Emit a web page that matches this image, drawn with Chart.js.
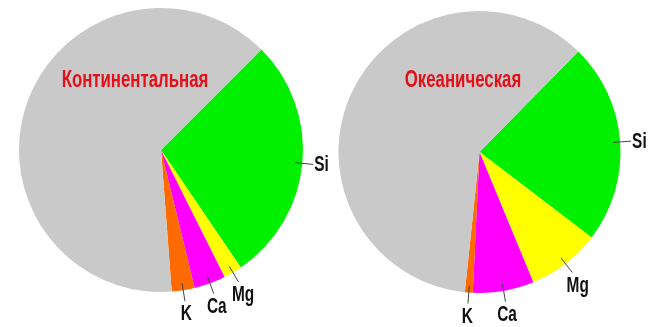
<!DOCTYPE html>
<html>
<head>
<meta charset="utf-8">
<script src="https://cdn.jsdelivr.net/npm/chart.js@4"></script>
<style>
  html, body { margin: 0; padding: 0; background: #fff; }
  .wrap { position: relative; width: 652px; height: 327px; }
  .cell { position: absolute; top: 0; height: 327px; }
</style>
</head>
<body>
<div class="wrap">
  <div class="cell" style="left:0; width:345px"><canvas id="contChart"></canvas></div>
  <div class="cell" style="left:326px; width:326px"><canvas id="oceanChart"></canvas></div>
</div>
<script>
// ---- Data (mass %) ----
const ELEMENTS    = ["Si", "Mg", "Ca", "K", ""];
const CONTINENTAL = [28, 2.1, 3.6, 2.6, 63.7];
const OCEANIC     = [23, 8.4, 7.0, 0.9, 60.7];
const COLORS = ["#00f000", "#ffff00", "#ff00ff", "#ff6a00", "#c9c9c9"];

const LABEL_FONT = "bold 22px 'Liberation Sans', Arial, sans-serif";
const TITLE_FONT = "bold 24px 'Liberation Sans', Arial, sans-serif";
const SQUEEZE = 0.7;   // condensed look

// draw text squeezed horizontally around (x, y)
function squeezed(ctx, text, x, y, align) {
  ctx.save();
  ctx.translate(x, y);
  ctx.scale(SQUEEZE, 1);
  ctx.textAlign = align;
  ctx.fillText(text, 0, 0);
  ctx.restore();
}

// ---- Leader lines + labels + title ----
const pieLabels = {
  id: "pieLabels",
  afterDraw(chart, args, opts) {
    const ctx = chart.ctx;
    const meta = chart.getDatasetMeta(0);
    ctx.save();
    meta.data.forEach((arc, i) => {
      const name = chart.data.labels[i];
      if (!name) return;
      const { x, y, startAngle, endAngle, outerRadius } = arc.getProps(["x","y","startAngle","endAngle","outerRadius"], true);
      const mid = (startAngle + endAngle) / 2;
      const c = Math.cos(mid), s = Math.sin(mid);
      const r0 = outerRadius - 7, r1 = outerRadius + 11;
      ctx.strokeStyle = "#444";
      ctx.lineWidth = 1;
      ctx.beginPath();
      ctx.moveTo(x + c * r0, y + s * r0);
      ctx.lineTo(x + c * r1, y + s * r1);
      ctx.stroke();
      ctx.fillStyle = "#111";
      ctx.font = LABEL_FONT;
      if (Math.abs(c) > 0.8) {
        ctx.textBaseline = "middle";
        squeezed(ctx, name, x + c * r1 + 1, y + s * r1 + 1, "left");
      } else {
        ctx.textBaseline = "top";
        squeezed(ctx, name, x + c * (r1 + 9), y + s * r1 + 2, "center");
      }
    });
    // title
    ctx.fillStyle = "#e3101a";
    ctx.font = TITLE_FONT;
    ctx.textBaseline = "middle";
    squeezed(ctx, opts.title, opts.tx, opts.ty, "center");
    ctx.restore();
  }
};

function buildPie(id, values, rotation, padding, title, tx, ty) {
  new Chart(document.getElementById(id), {
    type: "pie",
    data: {
      labels: ELEMENTS,
      datasets: [{
        data: values,
        backgroundColor: COLORS,
        borderWidth: 0,
      }]
    },
    options: {
      responsive: true,
      maintainAspectRatio: false,
      animation: false,
      rotation,
      layout: { padding },
      plugins: {
        legend: { display: false },
        tooltip: { enabled: false },
        pieLabels: { title, tx, ty }
      }
    },
    plugins: [pieLabels]
  });
}

// INIT
buildPie("contChart", CONTINENTAL, 45, { left: 19, right: 42, top: 8, bottom: 35 }, "Континентальная", 135, 80);
buildPie("oceanChart", OCEANIC, 44.5, { left: 12, right: 31, top: 11, bottom: 34 }, "Океаническая", 137, 80);
</script>
</body>
</html>
